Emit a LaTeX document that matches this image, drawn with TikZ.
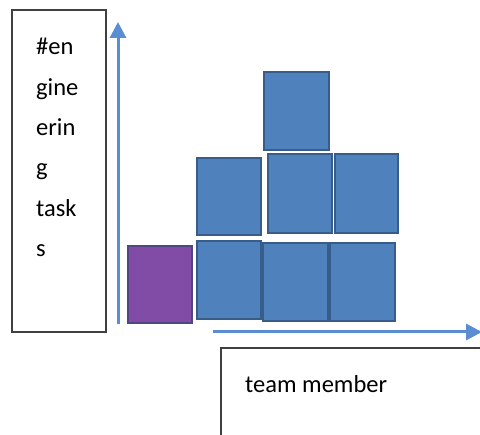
\documentclass[tikz,border=0pt]{standalone}
\usepackage{fontspec}
\setmainfont{Carlito}
\usetikzlibrary{arrows.meta}
\definecolor{boxblue}{RGB}{79,129,189}
\definecolor{boxedge}{RGB}{56,93,138}
\definecolor{boxpurple}{RGB}{128,76,166}
\definecolor{boxpurpleedge}{RGB}{80,70,130}
\definecolor{axisblue}{RGB}{91,141,210}
\definecolor{frame}{RGB}{64,64,64}
\tikzset{
  block/.style={draw=boxedge, fill=boxblue, line width=1.6pt, inner sep=0pt, outer sep=0pt},
  pblock/.style={draw=boxpurpleedge, fill=boxpurple, line width=1.6pt, inner sep=0pt, outer sep=0pt},
  labelbox/.style={draw=frame, line width=1.8pt, fill=white},
  axis/.style={draw=axisblue, line width=3pt, -{Triangle[length=16pt,width=16pt]}},
  lbl/.style={font=\fontsize{24.5}{40.4}\selectfont, text=black, inner sep=0pt, align=left}
}
\begin{document}
\begin{tikzpicture}[x=1pt,y=-1pt]
\useasboundingbox[fill=white] (0,0) rectangle (480,435);
\clip (0,0) rectangle (480,435);
% label boxes
\draw[labelbox] (12,10) rectangle (106,332);
\node[lbl, anchor=north west] (ytext) at (36,38) {\#en\\gine\\erin\\g\\task\\s};
\draw[labelbox] (221,348) rectangle (492,447);
\node[lbl, anchor=base west] (xtext) at (245,393) {team member};
% axes
\coordinate (yo) at (118,324);
\coordinate (yt) at (118,22);
\coordinate (xo) at (213,332);
\coordinate (xt) at (482,332);
\draw[axis] (yo) -- (yt);
\draw[axis] (xo) -- (xt);
% blocks
\node[pblock, minimum width=64pt, minimum height=77pt, anchor=north west] (p1) at (128,246) {};
\node[block, minimum width=64pt, minimum height=78pt, anchor=north west] (b11) at (197,241) {};
\node[block, minimum width=65pt, minimum height=78pt, anchor=north west] (b12) at (263,243) {};
\node[block, minimum width=65pt, minimum height=78pt, anchor=north west] (b13) at (330,243) {};
\node[block, minimum width=64pt, minimum height=77pt, anchor=north west] (b21) at (197,158) {};
\node[block, minimum width=64pt, minimum height=79pt, anchor=north west] (b22) at (268,154) {};
\node[block, minimum width=63pt, minimum height=79pt, anchor=north west] (b23) at (335,154) {};
\node[block, minimum width=65pt, minimum height=78pt, anchor=north west] (b31) at (264,72) {};
\end{tikzpicture}
\end{document}
